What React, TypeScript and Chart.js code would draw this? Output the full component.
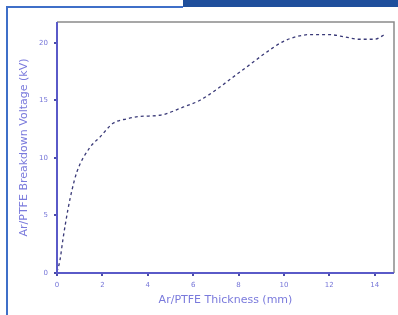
import React, { useEffect, useRef } from "react";
import { Chart, registerables } from "chart.js";

Chart.register(...registerables);

const thicknessMm = [0, 0.13, 0.26, 0.48, 0.66, 0.88, 1.45, 1.89, 2.47, 3.1, 3.66, 4.54, 5.55, 6.3, 7.0, 7.75, 8.5, 9.25, 9.96, 10.5, 11.1, 12.0, 12.7, 13.3, 14.0, 14.5];
const voltageKv = [0.1, 1.1, 2.9, 5.5, 7.2, 8.8, 10.9, 11.8, 13.0, 13.4, 13.6, 13.7, 14.4, 15.0, 15.9, 17.0, 18.1, 19.2, 20.1, 20.5, 20.7, 20.7, 20.5, 20.3, 20.3, 20.8];
const xTicks = [0, 2, 4, 6, 8, 10, 12, 14];
const yTicks = [0, 5, 10, 15, 20];
const xTitle = "Ar/PTFE Thickness (mm)";
const yTitle = "Ar/PTFE Breakdown Voltage (kV)";

const W = 398;
const H = 315;
const AREA = { left: 57, right: 394, top: 22, bottom: 273 };

const framePlugin = {
  id: "frame",
  afterDraw(chart: any) {
    const { ctx, chartArea } = chart;
    ctx.save();
    ctx.strokeStyle = "#8a8a8a";
    ctx.lineWidth = 1.5;
    ctx.beginPath();
    ctx.moveTo(chartArea.left, chartArea.top);
    ctx.lineTo(chartArea.right, chartArea.top);
    ctx.lineTo(chartArea.right, chartArea.bottom);
    ctx.stroke();
    ctx.strokeStyle = "#5a5ac8";
    ctx.lineWidth = 2;
    ctx.beginPath();
    ctx.moveTo(chartArea.left, chartArea.top);
    ctx.lineTo(chartArea.left, chartArea.bottom);
    ctx.lineTo(chartArea.right, chartArea.bottom);
    ctx.stroke();
    ctx.restore();
  },
};

export default function App() {
  const ref = useRef<HTMLCanvasElement>(null);
  useEffect(() => {
    if (!ref.current) return;
    const font = "'DejaVu Sans', sans-serif";
    const chart = new Chart(ref.current, {
      type: "line",
      data: {
        datasets: [
          {
            data: thicknessMm.map((x, i) => ({ x, y: voltageKv[i] })),
            borderColor: "#3a3a78",
            borderWidth: 1.3,
            borderDash: [3, 3],
            pointRadius: 0,
            cubicInterpolationMode: "monotone",
            fill: false,
          },
        ],
      },
      options: {
        animation: false,
        responsive: false,
        maintainAspectRatio: false,
        layout: { padding: { top: AREA.top, right: W - AREA.right, left: 14, bottom: 4 } },
        plugins: { legend: { display: false }, tooltip: { enabled: false } },
        scales: {
          x: {
            type: "linear",
            min: 0,
            max: 14.85,
            afterBuildTicks: (s: any) => {
              s.ticks = xTicks.map((v) => ({ value: v }));
            },
            afterFit: (s: any) => {
              s.height = H - AREA.bottom - 4;
            },
            grid: { drawOnChartArea: false, color: "#4a4aa8", tickLength: 3, lineWidth: 2 },
            border: { display: false },
            ticks: { color: "#7676d8", font: { family: font, size: 7 }, padding: 5, maxRotation: 0 },
            title: { display: true, text: xTitle, color: "#7a7adc", font: { family: font, size: 11 }, padding: { top: 6 } },
          },
          y: {
            type: "linear",
            min: 0,
            max: 21.8,
            afterBuildTicks: (s: any) => {
              s.ticks = yTicks.map((v) => ({ value: v }));
            },
            afterFit: (s: any) => {
              s.width = AREA.left - 14;
            },
            grid: { drawOnChartArea: false, color: "#4a4aa8", tickLength: 3, lineWidth: 2 },
            border: { display: false },
            ticks: { color: "#7676d8", font: { family: font, size: 7 }, padding: 6 },
            title: { display: true, text: yTitle, color: "#7a7adc", font: { family: font, size: 11 }, padding: { bottom: 2 } },
          },
        },
      },
      plugins: [framePlugin],
    });
    return () => chart.destroy();
  }, []);

  return (
    <div style={{ position: "fixed", left: 0, top: 0, width: W, height: H, background: "#fff", overflow: "hidden" }}>
      <div style={{ position: "absolute", left: 183, top: 0, width: W - 183, height: 7, background: "#1f4f9c" }} />
      <div style={{ position: "absolute", left: 7, top: 6, width: 176, height: 1.5, background: "#3f6fc8" }} />
      <div style={{ position: "absolute", left: 6, top: 6, width: 1.5, height: H - 6, background: "#3f6fc8" }} />
      <canvas ref={ref} width={W} height={H} style={{ position: "absolute", left: 0, top: 0, width: W, height: H }} />
    </div>
  );
}
